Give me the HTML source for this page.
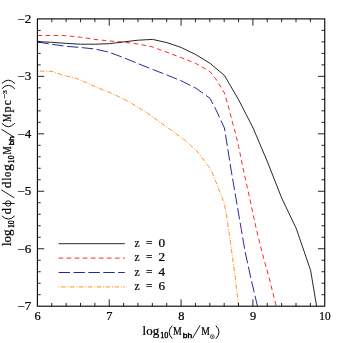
<!DOCTYPE html>
<html><head><meta charset="utf-8"><title>plot</title>
<style>
html,body{margin:0;padding:0;background:#fff;}
body{width:343px;height:343px;overflow:hidden;font-family:"Liberation Serif",serif;}
svg{display:block;will-change:transform;}
text{font-family:"Liberation Serif",serif;fill:#000;stroke:#000;stroke-width:0.22px;}
</style></head><body>
<svg width="343" height="343" viewBox="0 0 343 343">
<rect width="343" height="343" fill="#fff"/>
<defs><clipPath id="c"><rect x="37.4" y="18.9" width="287.35" height="287.3"/></clipPath></defs>
<g clip-path="url(#c)" fill="none" stroke-width="0.85" stroke-linejoin="round">
<polyline points="37.50,71.00 51.90,71.40 62.20,74.90 76.20,78.30 86.00,82.50 93.50,86.00 111.00,93.00 128.60,101.50 146.20,112.30 161.20,123.10 172.00,130.80 184.50,139.90 197.10,151.20 210.50,169.00 212.00,172.00 224.00,202.40 226.00,212.00 228.50,229.00 231.50,250.00 235.50,279.70 238.50,306.25" stroke="#ff8000" stroke-dasharray="1 1.4 4.7 1.8"/>
<polyline points="37.50,42.00 51.90,44.30 66.25,46.30 80.60,47.50 95.00,49.00 109.40,52.30 123.75,57.70 138.10,63.60 152.50,69.40 166.90,75.00 181.25,80.80 195.60,88.00 210.00,98.30 216.10,110.00 224.40,128.00 227.70,148.50 231.10,170.00 236.20,199.70 241.30,229.50 245.10,251.70 251.20,279.70 257.50,306.25" stroke="#00008c" stroke-dasharray="11.4 3.5"/>
<polyline points="37.50,35.50 51.90,35.50 66.25,35.70 80.60,37.20 95.00,39.40 109.40,41.00 123.75,42.20 138.10,44.00 152.50,46.90 166.90,52.20 181.25,57.70 195.60,63.30 210.00,71.60 215.50,78.50 224.40,92.80 228.10,105.50 232.20,121.10 236.20,136.20 238.60,146.50 243.40,170.00 250.00,199.70 256.30,229.00 262.10,252.60 268.70,276.20 276.20,306.25" stroke="#f00" stroke-dasharray="4.6 3.45"/>
<polyline points="37.50,41.60 51.90,42.30 66.25,43.40 80.60,44.20 95.00,44.20 109.40,43.70 123.75,41.90 138.10,40.20 152.50,39.40 166.90,42.60 181.25,47.50 195.60,54.50 210.00,63.30 224.40,75.40 238.75,100.00 253.10,128.00 267.50,162.00 281.90,198.50 296.25,228.50 310.60,270.30 316.60,306.25" stroke="#000"/>
</g>
<path d="M51.767 306.2 v-3.3 M51.767 18.9 v3.3 M66.135 306.2 v-3.3 M66.135 18.9 v3.3 M80.502 306.2 v-3.3 M80.502 18.9 v3.3 M94.870 306.2 v-3.3 M94.870 18.9 v3.3 M109.238 306.2 v-6.8 M109.238 18.9 v6.8 M123.605 306.2 v-3.3 M123.605 18.9 v3.3 M137.973 306.2 v-3.3 M137.973 18.9 v3.3 M152.340 306.2 v-3.3 M152.340 18.9 v3.3 M166.708 306.2 v-3.3 M166.708 18.9 v3.3 M181.075 306.2 v-6.8 M181.075 18.9 v6.8 M195.443 306.2 v-3.3 M195.443 18.9 v3.3 M209.810 306.2 v-3.3 M209.810 18.9 v3.3 M224.178 306.2 v-3.3 M224.178 18.9 v3.3 M238.545 306.2 v-3.3 M238.545 18.9 v3.3 M252.912 306.2 v-6.8 M252.912 18.9 v6.8 M267.280 306.2 v-3.3 M267.280 18.9 v3.3 M281.648 306.2 v-3.3 M281.648 18.9 v3.3 M296.015 306.2 v-3.3 M296.015 18.9 v3.3 M310.382 306.2 v-3.3 M310.382 18.9 v3.3 M37.4 30.392 h3.3 M324.75 30.392 h-3.3 M37.4 41.884 h3.3 M324.75 41.884 h-3.3 M37.4 53.376 h3.3 M324.75 53.376 h-3.3 M37.4 64.868 h3.3 M324.75 64.868 h-3.3 M37.4 76.360 h6.8 M324.75 76.360 h-6.8 M37.4 87.852 h3.3 M324.75 87.852 h-3.3 M37.4 99.344 h3.3 M324.75 99.344 h-3.3 M37.4 110.836 h3.3 M324.75 110.836 h-3.3 M37.4 122.328 h3.3 M324.75 122.328 h-3.3 M37.4 133.820 h6.8 M324.75 133.820 h-6.8 M37.4 145.312 h3.3 M324.75 145.312 h-3.3 M37.4 156.804 h3.3 M324.75 156.804 h-3.3 M37.4 168.296 h3.3 M324.75 168.296 h-3.3 M37.4 179.788 h3.3 M324.75 179.788 h-3.3 M37.4 191.280 h6.8 M324.75 191.280 h-6.8 M37.4 202.772 h3.3 M324.75 202.772 h-3.3 M37.4 214.264 h3.3 M324.75 214.264 h-3.3 M37.4 225.756 h3.3 M324.75 225.756 h-3.3 M37.4 237.248 h3.3 M324.75 237.248 h-3.3 M37.4 248.740 h6.8 M324.75 248.740 h-6.8 M37.4 260.232 h3.3 M324.75 260.232 h-3.3 M37.4 271.724 h3.3 M324.75 271.724 h-3.3 M37.4 283.216 h3.3 M324.75 283.216 h-3.3 M37.4 294.708 h3.3 M324.75 294.708 h-3.3" stroke="#000" stroke-width="0.85" fill="none"/>
<rect x="37.4" y="18.9" width="287.35" height="287.3" fill="none" stroke="#000" stroke-width="1.1"/>
<g font-size="11.8">
<text x="31.4" y="22.80" text-anchor="end" textLength="13.9" lengthAdjust="spacingAndGlyphs">−2</text>
<text x="31.4" y="80.26" text-anchor="end" textLength="13.9" lengthAdjust="spacingAndGlyphs">−3</text>
<text x="31.4" y="137.72" text-anchor="end" textLength="13.9" lengthAdjust="spacingAndGlyphs">−4</text>
<text x="31.4" y="195.18" text-anchor="end" textLength="13.9" lengthAdjust="spacingAndGlyphs">−5</text>
<text x="31.4" y="252.64" text-anchor="end" textLength="13.9" lengthAdjust="spacingAndGlyphs">−6</text>
<text x="31.4" y="310.10" text-anchor="end" textLength="13.9" lengthAdjust="spacingAndGlyphs">−7</text>
<text x="37.60" y="319.6" text-anchor="middle" textLength="6.2" lengthAdjust="spacingAndGlyphs">6</text>
<text x="109.44" y="319.6" text-anchor="middle" textLength="6.2" lengthAdjust="spacingAndGlyphs">7</text>
<text x="181.28" y="319.6" text-anchor="middle" textLength="6.2" lengthAdjust="spacingAndGlyphs">8</text>
<text x="253.11" y="319.6" text-anchor="middle" textLength="6.2" lengthAdjust="spacingAndGlyphs">9</text>
<text x="324.95" y="319.6" text-anchor="middle" textLength="11.3" lengthAdjust="spacingAndGlyphs">10</text>
</g>
<line x1="58.6" y1="243.70" x2="124.8" y2="243.70" stroke="#000" stroke-width="0.85"/>
<g font-size="11.5"><text x="134.6" y="246.90">z</text><text x="146.0" y="246.90">=</text><text x="158.6" y="246.90" textLength="6.6" lengthAdjust="spacingAndGlyphs">0</text></g>
<line x1="58.6" y1="258.10" x2="124.8" y2="258.10" stroke="#f00" stroke-width="0.85" stroke-dasharray="4.6 3.45"/>
<g font-size="11.5"><text x="134.6" y="261.30">z</text><text x="146.0" y="261.30">=</text><text x="158.6" y="261.30" textLength="6.6" lengthAdjust="spacingAndGlyphs">2</text></g>
<line x1="58.6" y1="272.50" x2="124.8" y2="272.50" stroke="#00008c" stroke-width="0.85" stroke-dasharray="11.4 3.5"/>
<g font-size="11.5"><text x="134.6" y="275.70">z</text><text x="146.0" y="275.70">=</text><text x="158.6" y="275.70" textLength="6.6" lengthAdjust="spacingAndGlyphs">4</text></g>
<line x1="58.6" y1="286.90" x2="124.8" y2="286.90" stroke="#ff8000" stroke-width="0.85" stroke-dasharray="1 1.4 4.7 1.8"/>
<g font-size="11.5"><text x="134.6" y="290.10">z</text><text x="146.0" y="290.10">=</text><text x="158.6" y="290.10" textLength="6.6" lengthAdjust="spacingAndGlyphs">6</text></g>
<g id="xl" transform="translate(142.6,334.75)"><text x="0.00" y="0" font-size="11.7" textLength="16.60" lengthAdjust="spacingAndGlyphs">log</text><text x="17.60" y="3.3" font-size="8.4" style="stroke-width:0.4px" textLength="8.10" lengthAdjust="spacingAndGlyphs">10</text><path d="M29.60 -9.1 Q23.60 -2.6 29.60 3.9" fill="none" stroke="#000" stroke-width="0.95"/><text x="30.50" y="0" font-size="11.7" textLength="8.80" lengthAdjust="spacingAndGlyphs">M</text><text x="40.20" y="3.3" font-size="7.6" style="font-family:'Liberation Sans',sans-serif;stroke-width:0.45px" textLength="9.40" lengthAdjust="spacingAndGlyphs">bh</text><line x1="50.00" y1="3.4" x2="57.50" y2="-9.5" stroke="#000" stroke-width="0.9"/><text x="58.60" y="0" font-size="11.7" textLength="8.60" lengthAdjust="spacingAndGlyphs">M</text><circle cx="69.75" cy="1.9" r="1.9" fill="none" stroke="#000" stroke-width="0.7"/><circle cx="69.75" cy="1.9" r="0.55" fill="#000"/><path d="M73.30 -9.1 Q79.50 -2.6 73.30 3.9" fill="none" stroke="#000" stroke-width="0.95"/></g>
<g id="yl" transform="translate(10.9,246.05) rotate(-90)"><text x="0.00" y="0" font-size="11.7" textLength="16.65" lengthAdjust="spacingAndGlyphs">log</text><text x="18.00" y="3.3" font-size="8.4" style="stroke-width:0.4px" textLength="7.80" lengthAdjust="spacingAndGlyphs">10</text><path d="M30.20 -9.1 Q23.80 -2.6 30.20 3.9" fill="none" stroke="#000" stroke-width="0.95"/><text x="31.80" y="0" font-size="11.7" textLength="6.15" lengthAdjust="spacingAndGlyphs">d</text><ellipse cx="42.58" cy="-2.7" rx="2.67" ry="2.7" fill="none" stroke="#000" stroke-width="0.9"/><line x1="42.58" y1="-8.4" x2="42.58" y2="3.7" stroke="#000" stroke-width="0.9"/><line x1="48.20" y1="3.4" x2="56.20" y2="-9.5" stroke="#000" stroke-width="0.9"/><text x="57.70" y="0" font-size="11.7" textLength="6.65" lengthAdjust="spacingAndGlyphs">d</text><text x="65.65" y="0" font-size="11.7" textLength="2.60" lengthAdjust="spacingAndGlyphs">l</text><text x="69.25" y="0" font-size="11.7" textLength="4.75" lengthAdjust="spacingAndGlyphs">o</text><text x="75.05" y="0" font-size="11.7" textLength="6.90" lengthAdjust="spacingAndGlyphs">g</text><text x="82.90" y="3.3" font-size="8.4" style="stroke-width:0.4px" textLength="7.70" lengthAdjust="spacingAndGlyphs">10</text><text x="91.55" y="0" font-size="11.7" textLength="8.30" lengthAdjust="spacingAndGlyphs">M</text><text x="100.75" y="3.3" font-size="7.6" style="font-family:'Liberation Sans',sans-serif;stroke-width:0.45px" textLength="9.00" lengthAdjust="spacingAndGlyphs">bh</text><line x1="108.65" y1="3.4" x2="116.85" y2="-9.5" stroke="#000" stroke-width="0.9"/><path d="M122.90 -9.1 Q115.70 -2.6 122.90 3.9" fill="none" stroke="#000" stroke-width="0.95"/><text x="124.15" y="0" font-size="11.7" textLength="8.30" lengthAdjust="spacingAndGlyphs">M</text><text x="133.55" y="0" font-size="11.7" textLength="6.00" lengthAdjust="spacingAndGlyphs">p</text><text x="140.85" y="0" font-size="11.7" textLength="5.00" lengthAdjust="spacingAndGlyphs">c</text><text x="147.15" y="-4.4" font-size="7.1" textLength="8.90" lengthAdjust="spacingAndGlyphs">−3</text><path d="M157.30 -9.1 Q164.10 -2.6 157.30 3.9" fill="none" stroke="#000" stroke-width="0.95"/><path d="M162.50 -9.1 Q169.30 -2.6 162.50 3.9" fill="none" stroke="#000" stroke-width="0.95"/></g>
</svg>
</body></html>
